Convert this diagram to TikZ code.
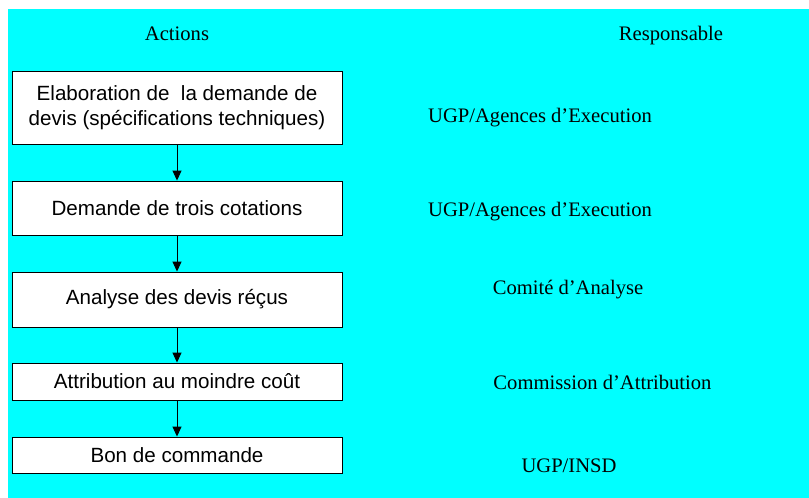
\documentclass[tikz,border=0pt]{standalone}
\usepackage{fontspec}
\setmainfont{Liberation Serif}
\newfontfamily\arial{Liberation Sans}
\usetikzlibrary{arrows.meta}
\definecolor{bgcyan}{RGB}{0,255,255}
\begin{document}
\begin{tikzpicture}[x=1pt,y=-1pt,
  box/.style={draw=black, line width=0.9pt, fill=white, minimum width=330pt, inner sep=0pt,
    font=\arial\fontsize{20.6}{24.5}\selectfont, align=center},
  lbl/.style={font=\fontsize{20.6}{24}\selectfont, inner sep=0pt, anchor=base},
  flow/.style={-{Triangle[width=9pt,length=10pt]}, line width=0.9pt}]
\useasboundingbox (0,0) rectangle (809,498);
\fill[bgcyan] (8,9) rectangle (809,498);
\node[lbl] (hA) at (177,40.5) {Actions};
\node[lbl] (hR) at (671,40.5) {Responsable};
\node[box, minimum height=73pt] (b1) at (177,107.5) {Elaboration de\ \ la demande de\\devis (spécifications techniques)};
\node[box, minimum height=54pt] (b2) at (177,208) {Demande de trois cotations};
\node[box, minimum height=55pt] (b3) at (177,299.5) {Analyse des devis réçus};
\node[box, minimum height=37pt] (b4) at (177,381.5) {Attribution au moindre coût};
\node[box, minimum height=36pt] (b5) at (177,455) {Bon de commande};
\node[lbl] (r1) at (540,122.7) {UGP/Agences d’Execution};
\node[lbl] (r2) at (540,216) {UGP/Agences d’Execution};
\node[lbl] (r3) at (568,294) {Comité d’Analyse};
\node[lbl] (r4) at (602.5,389) {Commission d’Attribution};
\node[lbl] (r5) at (569,472.7) {UGP/INSD};
\draw[flow] (b1) -- (b2);
\draw[flow] (b2) -- (b3);
\draw[flow] (b3) -- (b4);
\draw[flow] (b4) -- (b5);
\end{tikzpicture}
\end{document}
